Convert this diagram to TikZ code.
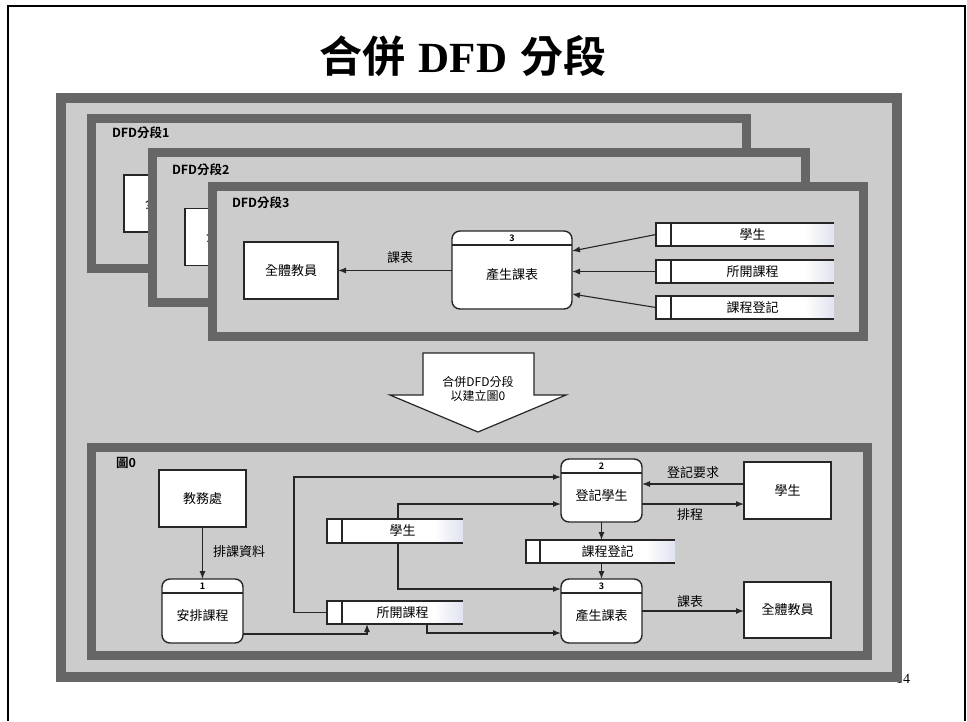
\documentclass[tikz,border=0pt]{standalone}
\usepackage{fontspec}
\setmainfont{Liberation Serif}
\newfontfamily\cjk[BoldFont={Noto Sans CJK TC Bold}]{Noto Sans CJK TC}
\usetikzlibrary{arrows.meta,calc}
\definecolor{panel}{HTML}{CCCCCC}
\definecolor{frameg}{HTML}{666666}
\definecolor{storeblue}{RGB}{224,227,240}
\tikzset{
  every node/.style={inner sep=0pt, outer sep=0pt},
  boxline/.style={line width=1.3pt, draw=black!85},
  extbox/.style={draw=black!85, fill=white, line width=1.4pt, font=\cjk\fontsize{13}{15}\selectfont},
  procbox/.style={draw=black!85, fill=white, line width=1.4pt, rounded corners=8pt},
  lbl/.style={font=\cjk\fontsize{13}{15}\selectfont},
  numlbl/.style={font=\cjk\bfseries\fontsize{9}{10}\selectfont},
  framelbl/.style={anchor=west, font=\cjk\bfseries\fontsize{12.5}{14}\selectfont},
  flow/.style={-{Latex[length=8pt,width=6pt]}, line width=1.1pt, draw=black!85},
  storearea/.style={inner sep=0pt, minimum height=23pt}
}
% data store: name, x1, y1, x2, y2, xinner, text
\newcommand\dstore[7]{%
  \node[storearea, minimum width={(#4-#2)*1pt}] (#1) at ({(#2+#4)/2},{(#3+#5)/2}) {};
  \fill[white] (#2,#3) rectangle (#4,#5);
  \shade[left color=white, right color=storeblue] ({#4-29},#3) rectangle (#4,#5);
  \draw[boxline] (#4,#3) -- (#2,#3) -- (#2,#5) -- (#4,#5);
  \draw[boxline] (#6,#3) -- (#6,#5);
  \node[lbl] (#1t) at ({(#6+#4)/2},{(#3+#5)/2}) {#7};
}
% process: name, cx, cy, w, h, number, text
\newcommand\dproc[7]{%
  \node[procbox, minimum width=#4pt, minimum height=#5pt] (#1) at (#2,#3) {};
  \draw[boxline] ([yshift=-14pt]#1.north west) -- ([yshift=-14pt]#1.north east);
  \node[numlbl] (#1n) at ([yshift=-7pt]#1.north) {#6};
  \node[lbl] (#1t) at ([yshift=-5pt]#1.center) {#7};
}
% thick framed panel: x1 y1 x2 y2 (outer), thickness
\newcommand\dframe[5]{%
  \draw[draw=frameg, fill=panel, line width=#5pt] ({#1+#5/2},{#2+#5/2}) rectangle ({#3-#5/2},{#4-#5/2});
}
\begin{document}
\begin{tikzpicture}[x=1pt, y=-1pt]
\useasboundingbox (0,0) rectangle (967,721);
\fill[white] (0,0) rectangle (967,721);
% slide frame
\draw[line width=2.2pt] (8,721) -- (8,6) -- (965,6) -- (965,721);
% title
\node (title) at (463,56) {\cjk\bfseries\fontsize{43}{46}\selectfont 合併\hspace{0.3em}{\rmfamily\bfseries DFD}\hspace{0.3em}分段};
% page number (partly hidden)
\node[anchor=base east, font=\fontsize{14}{16}\selectfont] (pgno) at (910,683) {14};
% outer panel
\dframe{56}{93}{902}{682}{10}
% DFD fragment 1
\dframe{87}{114}{751}{273}{9}
\node[framelbl] (f1l) at (112,133) {DFD分段1};
\node[extbox, minimum width=94pt, minimum height=57pt] (all1) at (171,203.5) {全體教員};
% DFD fragment 2
\dframe{148}{148}{810}{307}{9}
\node[framelbl] (f2l) at (172,170) {DFD分段2};
\node[extbox, minimum width=94pt, minimum height=57pt] (all2) at (232,237) {全體教員};
% DFD fragment 3
\dframe{208}{182}{868}{341}{9}
\node[framelbl] (f3l) at (232,203) {DFD分段3};
\node[extbox, minimum width=94pt, minimum height=57pt] (all3) at (291,270.5) {全體教員};
\dproc{p3a}{512}{270}{120}{78}{3}{產生課表}
\dstore{sa}{656}{223}{834}{246}{671}{學生}
\dstore{sb}{656}{260}{834}{283}{671}{所開課程}
\dstore{sc}{656}{296}{834}{319}{671}{課程登記}
\draw[flow] (p3a.west |- all3.east) -- (all3.east);
\node[lbl] (kb3) at (400,258) {課表};
\draw[flow] (sa.west) -- ([yshift=19pt]p3a.east);
\draw[flow] (sb.west) -- (p3a.east |- sb.west);
\draw[flow] (sc.west) -- ([yshift=-24pt]p3a.east);
% big arrow
\draw[draw=black!85, fill=white, line width=1.2pt] (423,353) -- (534,353) -- (534,395) -- (566,395) -- (478,432) -- (390,395) -- (423,395) -- cycle;
\node[align=center, font=\cjk\fontsize{12}{14.5}\selectfont] (bigtxt) at (478,389) {合併DFD分段\\以建立圖0};
% diagram 0
\dframe{87}{443}{872}{660}{9}
\node[framelbl] (f0l) at (116,463) {圖0};
\node[extbox, minimum width=87pt, minimum height=57pt] (jw) at (202.5,498.5) {教務處};
\dproc{p1}{202.5}{611}{81}{64}{1}{安排課程}
\dproc{p2}{601.5}{490.5}{81}{63}{2}{登記學生}
\dproc{p3}{601.5}{611}{81}{64}{3}{產生課表}
\node[extbox, minimum width=87pt, minimum height=57pt] (stu) at (787.5,490.5) {學生};
\node[extbox, minimum width=87pt, minimum height=56pt] (allb) at (787.5,610) {全體教員};
\dstore{sstu}{327}{519}{463}{543}{342}{學生}
\dstore{soff}{327}{601}{463}{624}{342}{所開課程}
\dstore{sreg}{526}{540}{675}{563}{540}{課程登記}
% flows
\draw[flow] (jw.south) -- (p1.north);
\node[lbl] (pk) at (239,552) {排課資料};
\draw[flow] ([yshift=-23pt]p1.east) -| ([xshift=-28pt]soff.south);
\draw[flow] (soff.west) -- ++(-33,0) |- ([yshift=13.5pt]p2.west);
\draw[flow] ([xshift=3pt]sstu.north) |- ([yshift=-13.5pt]p2.west);
\draw[flow] ([xshift=3pt]sstu.south) |- ([yshift=22pt]p3.west);
\draw[flow] ([xshift=32pt]soff.south) |- ([yshift=-22pt]p3.west);
\draw[flow] ([yshift=6.5pt]stu.west) -- ([yshift=6.5pt]p2.east);
\node[lbl] (djyq) at (693,473) {登記要求};
\draw[flow] ([yshift=-13.5pt]p2.east) -- ([yshift=-13.5pt]stu.west);
\node[lbl] (pc) at (690,515) {排程};
\draw[flow] (p2.south) -- (p2.south |- sreg.north);
\draw[flow] (p3.north |- sreg.south) -- (p3.north);
\draw[flow] (p3.east) -- (p3.east -| allb.west);
\node[lbl] (kb) at (690,602) {課表};
\end{tikzpicture}
\end{document}
